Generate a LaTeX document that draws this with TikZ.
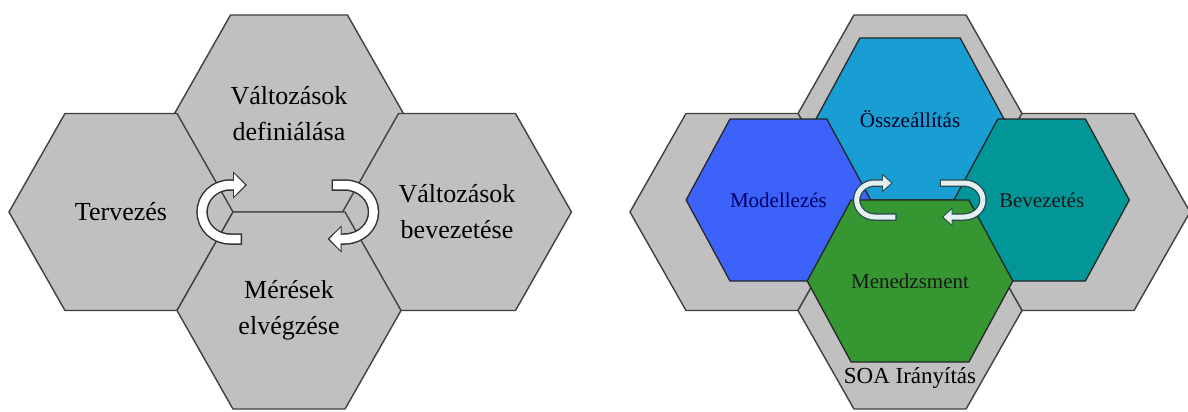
\documentclass[tikz,border=0pt]{standalone}
\usepackage{fontspec}
\setmainfont{Liberation Serif}
\usetikzlibrary{shapes.symbols,arrows.meta,calc,positioning}
\definecolor{hexgray}{RGB}{192,192,192}
\definecolor{modblue}{RGB}{60,98,250}
\definecolor{osscyan}{RGB}{24,158,210}
\definecolor{bevteal}{RGB}{2,150,152}
\definecolor{mengreen}{RGB}{54,150,50}
\definecolor{turnfill}{RGB}{226,240,240}
\definecolor{turnedge}{RGB}{40,72,82}
\begin{document}
\begin{tikzpicture}[x=1pt,y=-1pt,
    hexa/.style={signal, signal to=east and west, inner sep=0pt, outer sep=0pt, align=center},
    bighex/.style={hexa, minimum width=224pt, minimum height=197pt, signal pointer angle=120.8, fill=hexgray, draw=black!75, line width=1.4pt},
    smallhex/.style={hexa, minimum width=175.4pt, minimum height=162pt, signal pointer angle=123.1, draw=black!85, line width=1.3pt},
    bigtext/.style={font=\fontsize{26}{36}\selectfont},
    smalltext/.style={font=\fontsize{21}{25}\selectfont},
    turn/.style={draw=white, line width=8.5pt, shorten <=1.5pt, shorten >=2pt, -{Triangle[width=22pt,length=11pt]},
      preaction={draw=black!80, line width=11.5pt, shorten <=0pt, shorten >=0pt, -{Triangle[width=26.5pt,length=14pt]}}},
    turnsmall/.style={draw=turnfill, line width=5pt, shorten <=1.2pt, shorten >=1.6pt, -{Triangle[width=14pt,length=8pt]},
      preaction={draw=turnedge, line width=7.5pt, shorten <=0pt, shorten >=0pt, -{Triangle[width=18pt,length=10.5pt]}}}]
\useasboundingbox[fill=white] (0,0) rectangle (1188,412);
\node[bighex, bigtext] (valtdef) at (289,113.5) {Változások\\definiálása};
\node[bighex, bigtext] (tervez) at (121,212) {Tervezés};
\node[bighex, bigtext] (valtbev) at (457,212) {Változások\\bevezetése};
\node[bighex, bigtext] (meres) at (289,310.5) {Mérések\\elvégzése};
\draw[turn] ($(tervez.east)+(9,27)$) -- ++(-12,0) arc[start angle=90, end angle=270, x radius=28, y radius=27] -- ++(17,0);
\draw[turn] ($(valtbev.west)+(-11,-27)$) -- ++(13,0) arc[start angle=270, end angle=450, x radius=29, y radius=27] -- ++(-17,0);

\node[bighex] (gtop) at (910,113.5) {};
\node[bighex] (gleft) at (742,212) {};
\node[bighex] (gright) at (1078,212) {};
\node[bighex] (gbot) at (910,310.5) {};
\node[smallhex, smalltext, fill=osscyan, text=black!85!blue] (ossz) at (910,119) {Összeállítás};
\node[smallhex, smalltext, fill=modblue, text=blue!40!black] (modell) at (778.4,200) {Modellezés};
\node[smallhex, smalltext, fill=bevteal, text=black!90] (bevez) at (1041.6,200) {Bevezetés};
\node[smallhex, smalltext, fill=mengreen, text=black!90] (menedzs) at (910,281) {Menedzsment};
\node[font=\fontsize{23}{27}\selectfont, below=2pt of menedzs] (soa) {SOA Irányítás};
\draw[turnsmall] ($(modell.east)+(26,17)$) -- ++(-22,0) arc[start angle=90, end angle=270, x radius=18, y radius=17] -- ++(18,0);
\draw[turnsmall] ($(bevez.west)+(-14,-17)$) -- ++(24,0) arc[start angle=270, end angle=450, x radius=19, y radius=17] -- ++(-22,0);
\end{tikzpicture}
\end{document}
